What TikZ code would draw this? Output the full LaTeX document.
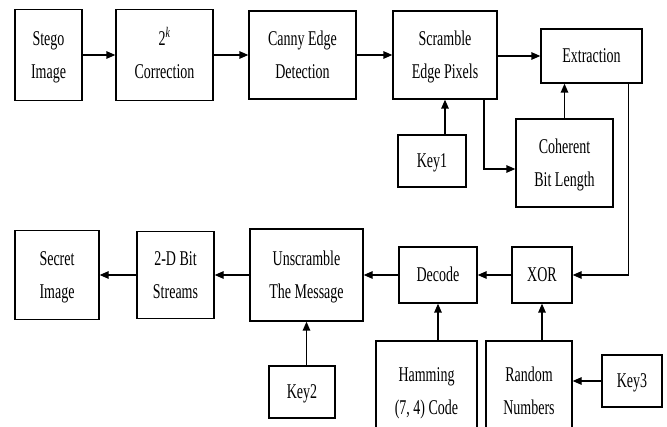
\documentclass[tikz,border=0pt]{standalone}
\usepackage{fontspec}
\setmainfont{Liberation Serif}
\usepackage{tikz}
\usetikzlibrary{positioning,calc,arrows.meta}

% tall, narrow text as in the scanned figure
\newcommand{\tallt}[1]{\scalebox{1}[1.5]{\begin{tabular}{@{}c@{}}#1\end{tabular}}}

\begin{document}
\begin{tikzpicture}[x=1pt,y=-1pt,line width=1.3pt,
    blk/.style={draw,inner sep=0pt,font=\fontsize{14}{22}\selectfont},
    >={Triangle[length=9pt,width=7.5pt]}]
    \useasboundingbox (0,0) rectangle (667,427);
    \clip (0,0) rectangle (667,427);

    % Top row
    \node[blk,minimum width=67pt,minimum height=91pt] (stego) at (48.5,55) {\tallt{Stego\\Image}};
    \node[blk,minimum width=97pt,minimum height=91pt] (corr) at (164.5,55) {\tallt{2\textsuperscript{\textit{k}}\\Correction}};
    \node[blk,minimum width=107pt,minimum height=88pt] (canny) at (302.5,55) {\tallt{Canny Edge\\Detection}};
    \node[blk,minimum width=104pt,minimum height=88pt] (scram) at (445,55) {\tallt{Scramble\\Edge Pixels}};
    \node[blk,minimum width=101pt,minimum height=54pt] (extr) at (591.5,56) {\tallt{Extraction}};
    \node[blk,minimum width=68pt,minimum height=52pt] (key1) at (432,161) {\tallt{Key1}};
    \node[blk,minimum width=97pt,minimum height=88pt] (coh) at (564.5,163) {\tallt{Coherent\\Bit Length}};

    % Bottom row
    \node[blk,minimum width=84pt,minimum height=89pt] (secret) at (57,275) {\tallt{Secret\\Image}};
    \node[blk,minimum width=77pt,minimum height=87pt] (bits) at (175.5,275) {\tallt{2-D Bit\\Streams}};
    \node[blk,minimum width=113pt,minimum height=92pt] (unscr) at (306.5,275) {\tallt{Unscramble\\The Message}};
    \node[blk,minimum width=78pt,minimum height=56pt] (decode) at (438,275) {\tallt{Decode}};
    \node[blk,minimum width=60pt,minimum height=56pt] (xor) at (542,275) {\tallt{XOR}};
    \node[blk,minimum width=66pt,minimum height=52pt] (key2) at (302,392) {\tallt{Key2}};
    \node[blk,minimum width=101pt,minimum height=100pt] (hamm) at (426.5,391) {\tallt{Hamming\\(7, 4) Code}};
    \node[blk,minimum width=86pt,minimum height=100pt] (rand) at (529,391) {\tallt{Random\\Numbers}};
    \node[blk,minimum width=60pt,minimum height=52pt] (key3) at (632,381) {\tallt{Key3}};

    % Connectors
    \draw[->] (stego) -- (corr);
    \draw[->] (corr) -- (canny);
    \draw[->] (canny) -- (scram);
    \draw[->] (scram.east |- extr.west) -- (extr.west);
    \draw[->] (scram.south |- key1.north) -- (scram.south);
    \draw[->] ([xshift=39pt]scram.south) |- ([yshift=-6pt]coh.west);
    \draw[->] (coh.north) -- (coh.north |- extr.south);
    \draw[->] ([xshift=-14pt]extr.south east) |- (xor.east);
    \draw[->] (xor) -- (decode);
    \draw[->] (decode) -- (unscr);
    \draw[->] (unscr) -- (bits);
    \draw[->] (bits) -- (secret);
    \draw[->] (key2.north -| unscr.south) -- (unscr.south);
    \draw[->] (hamm.north -| decode.south) -- (decode.south);
    \draw[->] (rand.north -| xor.south) -- (xor.south);
    \draw[->] (key3) -- (key3 -| rand.east);

\end{tikzpicture}
\end{document}
